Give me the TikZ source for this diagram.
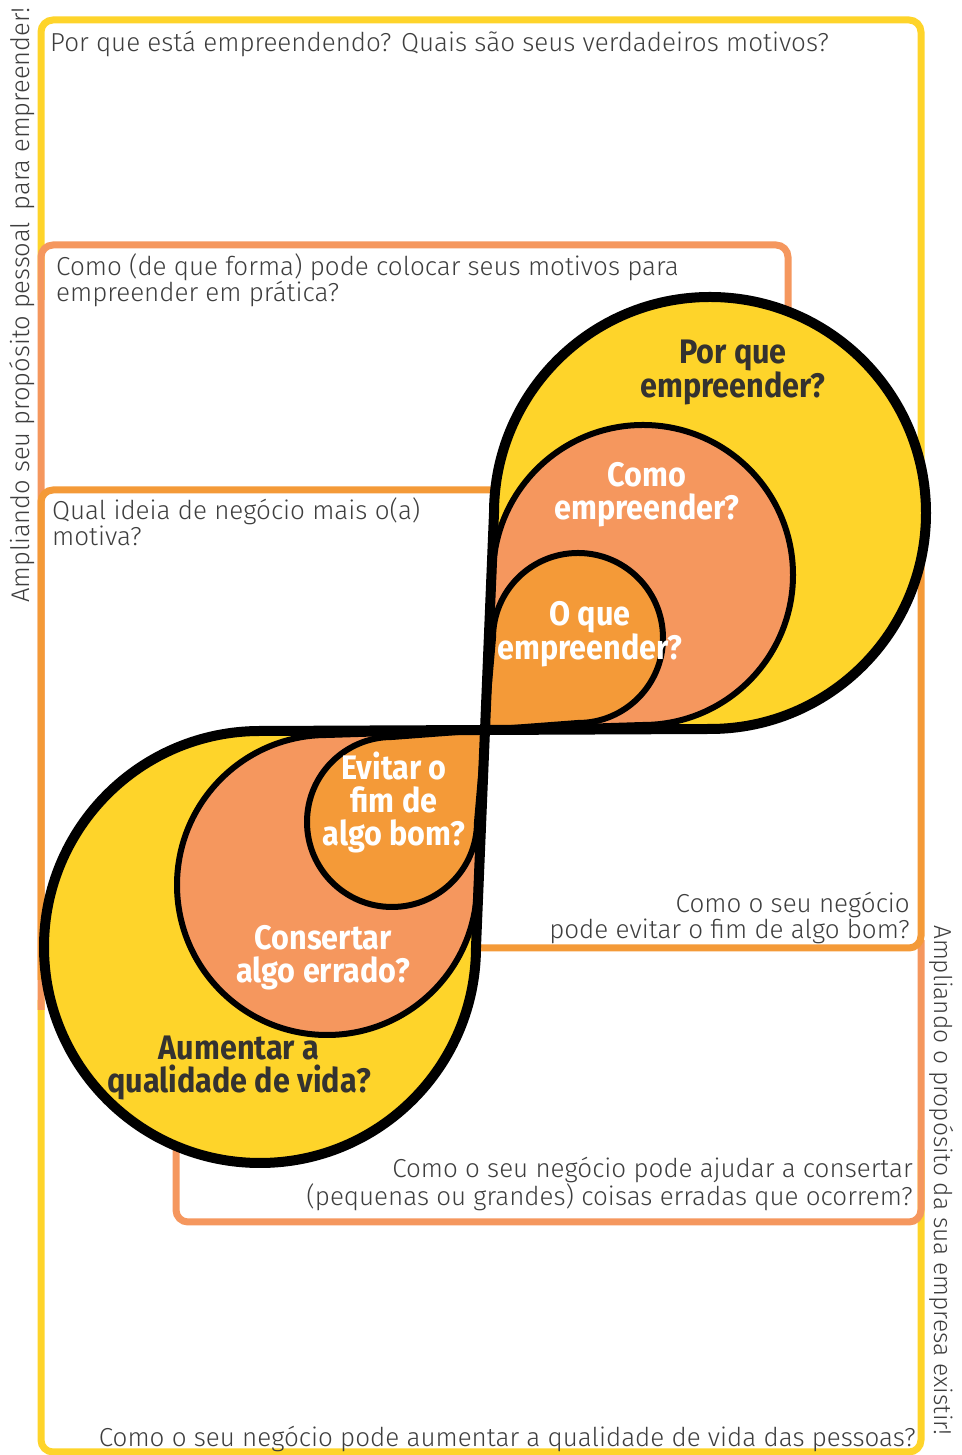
\documentclass[tikz,border=0pt]{standalone}
\usepackage{fontspec}
\setmainfont{Fira Sans}[UprightFont={* Light}, BoldFont={* Bold}]
\newfontfamily\lblfont{Fira Sans Bold}[FakeStretch=0.9]

\definecolor{ikgyellow}{RGB}{254,212,42}
\definecolor{ikgsalmon}{RGB}{245,151,94}
\definecolor{ikgorange}{RGB}{244,154,56}
\definecolor{ikgtext}{RGB}{62,62,62}
\definecolor{ikgdark}{RGB}{52,50,48}

\begin{document}
\begin{tikzpicture}[
  x=1pt, y=1pt,
  ikgframe/.style = {line width=7pt, rounded corners=12pt},
  ikgq/.style = {font=\fontsize{26}{26.5}\selectfont, text=ikgtext, inner sep=0pt},
  ikgside/.style = {font=\fontsize{25.5}{26}\selectfont, text=ikgtext, inner sep=0pt},
  ikglbl/.style = {font=\lblfont\fontsize{34}{33}\selectfont, align=center, inner sep=0pt, anchor=base}
]
  \useasboundingbox (0,0) rectangle (961,1455);
  % molduras: pessoal (cima/esquerda) e empresa (baixo/direita)
  \draw[ikgframe, ikgyellow] (41,1155) -- (41,1435) -- (921,1435) -- (921,935);
  \draw[ikgframe, ikgyellow] (41,455) -- (41,3) -- (921,3) -- (921,305);
  \draw[ikgframe, ikgsalmon] (41,445) -- (41,1210) -- (788,1210) -- (788,1125);
  \draw[ikgframe, ikgsalmon] (176,335) -- (176,233) -- (921,233) -- (921,515);
  \draw[ikgframe, ikgorange] (41,475) -- (41,965) -- (515,965) -- (515,895);
  \draw[ikgframe, ikgorange] (455,575) -- (455,507) -- (921,507) -- (921,935);
  % as duas gotas, uma girada 180 graus
  \foreach \ang in {0,180} {
    \begin{scope}[shift={(485,725)}, rotate=\ang]
      \fill[ikgyellow] (0,0) -- (9,217) arc[start angle=180, end angle=-90, radius=216] -- cycle;
      \filldraw[fill=ikgsalmon, line width=6pt, line join=round]
        (0,0) -- (8,155) arc[start angle=180, end angle=-90, radius=150] -- cycle;
      \filldraw[fill=ikgorange, line width=6pt, line join=round]
        (0,0) -- (8,92) arc[start angle=180, end angle=-90, radius=85] -- cycle;
      \draw[line width=10pt, line join=round] (0,0) -- (9,217) arc[start angle=180, end angle=-90, radius=216] -- cycle;
    \end{scope}
  }
  % rotulos das gotas (base = ultima linha)
  \node[ikglbl, text=ikgdark] (lpor) at (733,1057) {Por que\\empreender?};
  \node[ikglbl, text=white] (lcomo) at (647,935) {Como\\empreender?};
  \node[ikglbl, text=white] (loque) at (590,795) {O que\\empreender?};
  \node[ikglbl, text=white] (levitar) at (394,609) {Evitar o\\fim de\\algo bom?};
  \node[ikglbl, text=white] (lconsertar) at (323,472) {Consertar\\algo errado?};
  \node[ikglbl, text=ikgdark] (laumentar) at (239,362) {Aumentar a\\qualidade de vida?};
  % perguntas
  \node[ikgq, anchor=base west] (qpor) at (50,1403) {Por que está empreendendo? Quais são seus verdadeiros motivos?};
  \node[ikgq, anchor=base west, align=left] (qcomo) at (56,1153) {Como (de que forma) pode colocar seus motivos para\\empreender em prática?};
  \node[ikgq, anchor=base west, align=left] (qideia) at (52,909) {Qual ideia de negócio mais o(a)\\motiva?};
  \node[ikgq, anchor=base east, align=right] (qevitar) at (910,516) {Como o seu negócio\\pode evitar o fim de algo bom?};
  \node[ikgq, anchor=base east, align=right] (qconsertar) at (913,249) {Como o seu negócio pode ajudar a consertar\\(pequenas ou grandes) coisas erradas que ocorrem?};
  \node[ikgq, anchor=base east] (qaumentar) at (916,9) {Como o seu negócio pode aumentar a qualidade de vida das pessoas?};
  % textos laterais
  \node[ikgside, rotate=90, anchor=base west] (sidepessoal) at (29,852) {Ampliando seu propósito pessoal\hspace{12pt}para empreender!};
  \node[ikgside, font=\fontsize{24.5}{26}\selectfont, rotate=-90, anchor=base west] (sideempresa) at (934,530) {Ampliando o propósito da sua empresa existir!};
\end{tikzpicture}
\end{document}
